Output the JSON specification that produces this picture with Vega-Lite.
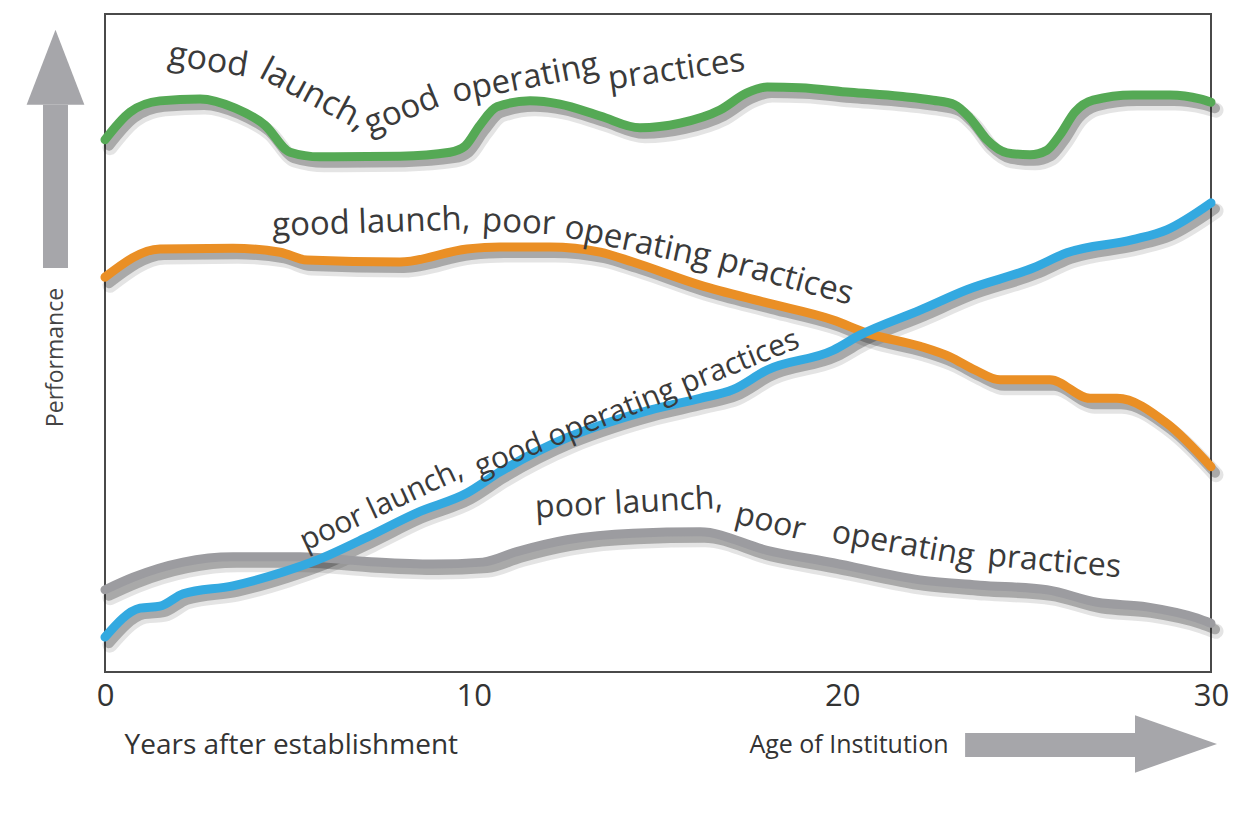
{
  "$schema": "https://vega.github.io/schema/vega-lite/v6.json",
  "width": 1106,
  "height": 658,
  "autosize": {"type": "none"},
  "padding": {"left": 105, "top": 14, "right": 25, "bottom": 147},
  "background": "white",
  "config": {"view": {"stroke": "#4a4a4a", "strokeWidth": 2}, "font": "Open Sans"},
  "datasets": {
    "lines": [
      {"series": "pp", "t": 0, "v": 12.5}, {"series": "pp", "t": 0.76, "v": 14.4}, {"series": "pp", "t": 2.12, "v": 16.7}, {"series": "pp", "t": 3.47, "v": 17.5}, {"series": "pp", "t": 5.29, "v": 17.5}, {"series": "pp", "t": 7.11, "v": 16.8}, {"series": "pp", "t": 8.9, "v": 16.4}, {"series": "pp", "t": 10.25, "v": 16.7}, {"series": "pp", "t": 11.17, "v": 18.3}, {"series": "pp", "t": 12.53, "v": 20.1}, {"series": "pp", "t": 14.32, "v": 21.1}, {"series": "pp", "t": 16.14, "v": 21.3}, {"series": "pp", "t": 17.96, "v": 18.5}, {"series": "pp", "t": 19.75, "v": 16.6}, {"series": "pp", "t": 22.11, "v": 14.0}, {"series": "pp", "t": 23.73, "v": 13.2}, {"series": "pp", "t": 25.55, "v": 12.5}, {"series": "pp", "t": 26.91, "v": 10.6}, {"series": "pp", "t": 28.26, "v": 9.9}, {"series": "pp", "t": 29.62, "v": 8.2}, {"series": "pp", "t": 30, "v": 7.4},
      {"series": "gp", "t": 0, "v": 60.0}, {"series": "gp", "t": 1.49, "v": 64.3}, {"series": "gp", "t": 3.47, "v": 64.4}, {"series": "gp", "t": 4.75, "v": 63.8}, {"series": "gp", "t": 5.48, "v": 62.6}, {"series": "gp", "t": 8.0, "v": 62.3}, {"series": "gp", "t": 9.82, "v": 64.3}, {"series": "gp", "t": 10.71, "v": 64.6}, {"series": "gp", "t": 12.07, "v": 64.6}, {"series": "gp", "t": 13.43, "v": 63.8}, {"series": "gp", "t": 14.32, "v": 62.3}, {"series": "gp", "t": 16.14, "v": 58.8}, {"series": "gp", "t": 17.96, "v": 56.1}, {"series": "gp", "t": 19.75, "v": 53.5}, {"series": "gp", "t": 20.67, "v": 51.5}, {"series": "gp", "t": 22.11, "v": 49.5}, {"series": "gp", "t": 22.92, "v": 47.9}, {"series": "gp", "t": 23.6, "v": 45.9}, {"series": "gp", "t": 24.28, "v": 44.4}, {"series": "gp", "t": 25.63, "v": 44.4}, {"series": "gp", "t": 26.72, "v": 41.6}, {"series": "gp", "t": 27.45, "v": 41.6}, {"series": "gp", "t": 28.8, "v": 37.8}, {"series": "gp", "t": 30, "v": 31.2},
      {"series": "gg", "t": 0, "v": 80.9}, {"series": "gg", "t": 0.68, "v": 85.1}, {"series": "gg", "t": 1.49, "v": 86.8}, {"series": "gg", "t": 2.58, "v": 87.1}, {"series": "gg", "t": 3.53, "v": 85.7}, {"series": "gg", "t": 4.34, "v": 83.1}, {"series": "gg", "t": 5.02, "v": 79.0}, {"series": "gg", "t": 5.83, "v": 78.3}, {"series": "gg", "t": 8.0, "v": 78.4}, {"series": "gg", "t": 9.36, "v": 79.0}, {"series": "gg", "t": 9.76, "v": 79.9}, {"series": "gg", "t": 10.17, "v": 83.1}, {"series": "gg", "t": 10.63, "v": 85.9}, {"series": "gg", "t": 11.53, "v": 86.8}, {"series": "gg", "t": 12.34, "v": 86.3}, {"series": "gg", "t": 13.43, "v": 84.5}, {"series": "gg", "t": 14.51, "v": 82.7}, {"series": "gg", "t": 15.6, "v": 83.4}, {"series": "gg", "t": 16.68, "v": 85.4}, {"series": "gg", "t": 17.41, "v": 88.0}, {"series": "gg", "t": 17.96, "v": 88.9}, {"series": "gg", "t": 18.85, "v": 88.8}, {"series": "gg", "t": 20.21, "v": 88.1}, {"series": "gg", "t": 21.56, "v": 87.5}, {"series": "gg", "t": 22.46, "v": 86.9}, {"series": "gg", "t": 23.05, "v": 86.2}, {"series": "gg", "t": 23.46, "v": 84.2}, {"series": "gg", "t": 23.92, "v": 80.9}, {"series": "gg", "t": 24.47, "v": 78.9}, {"series": "gg", "t": 25.09, "v": 78.6}, {"series": "gg", "t": 25.55, "v": 79.3}, {"series": "gg", "t": 25.9, "v": 81.6}, {"series": "gg", "t": 26.31, "v": 85.1}, {"series": "gg", "t": 26.8, "v": 86.9}, {"series": "gg", "t": 27.88, "v": 87.7}, {"series": "gg", "t": 28.89, "v": 87.7}, {"series": "gg", "t": 29.7, "v": 87.1}, {"series": "gg", "t": 30, "v": 86.6},
      {"series": "pg", "t": 0, "v": 5.3}, {"series": "pg", "t": 0.95, "v": 9.7}, {"series": "pg", "t": 1.49, "v": 10.0}, {"series": "pg", "t": 2.12, "v": 11.9}, {"series": "pg", "t": 3.47, "v": 13.1}, {"series": "pg", "t": 4.83, "v": 15.2}, {"series": "pg", "t": 5.75, "v": 17.0}, {"series": "pg", "t": 7.11, "v": 20.5}, {"series": "pg", "t": 8.46, "v": 24.2}, {"series": "pg", "t": 9.82, "v": 27.2}, {"series": "pg", "t": 10.71, "v": 30.4}, {"series": "pg", "t": 12.53, "v": 35.6}, {"series": "pg", "t": 13.7, "v": 38.0}, {"series": "pg", "t": 14.78, "v": 39.8}, {"series": "pg", "t": 16.14, "v": 41.6}, {"series": "pg", "t": 17.03, "v": 42.9}, {"series": "pg", "t": 17.96, "v": 45.9}, {"series": "pg", "t": 19.75, "v": 48.9}, {"series": "pg", "t": 20.48, "v": 51.2}, {"series": "pg", "t": 22.11, "v": 55.0}, {"series": "pg", "t": 23.38, "v": 58.1}, {"series": "pg", "t": 25.17, "v": 61.4}, {"series": "pg", "t": 26.09, "v": 63.7}, {"series": "pg", "t": 27.88, "v": 65.7}, {"series": "pg", "t": 28.8, "v": 67.2}, {"series": "pg", "t": 30, "v": 71.3}
    ]
  },
  "layer": [
    {
      "data": {"name": "lines"},
      "mark": {"type": "line", "interpolate": "monotone", "stroke": "#222222", "strokeWidth": 15, "opacity": 0.12, "xOffset": 5, "yOffset": 8, "strokeCap": "round"},
      "encoding": {
        "x": {"field": "t", "type": "quantitative", "scale": {"domain": [0, 30], "nice": false, "zero": false},
          "axis": {"values": [0, 10, 20, 30], "ticks": false, "domain": false, "grid": false, "labelFontSize": 31, "labelColor": "#333333", "labelPadding": 9, "labelFont": "Open Sans", "labelFlush": false,
            "title": "Years after establishment", "titleFont": "Open Sans", "titleFontSize": 28, "titleFontWeight": "normal", "titleColor": "#333333", "titleAlign": "left", "titleAnchor": "start", "titleX": 19, "titleY": 73, "titleBaseline": "middle"}},
        "y": {"field": "v", "type": "quantitative", "scale": {"domain": [0, 100], "nice": false, "zero": false},
          "axis": {"ticks": false, "labels": false, "domain": false, "grid": false, "title": "Performance", "titleFont": "Open Sans", "titleFontSize": 23, "titleFontWeight": "normal", "titleColor": "#444444", "titleX": -50, "titleY": 343, "titleAngle": -90, "titleAlign": "center", "titleBaseline": "middle"}},
        "detail": {"field": "series"}
      }
    },
    {
      "data": {"name": "lines"},
      "mark": {"type": "line", "interpolate": "monotone", "stroke": "#222222", "strokeWidth": 10, "opacity": 0.3, "xOffset": 4, "yOffset": 6, "strokeCap": "round"},
      "encoding": {
        "x": {"field": "t", "type": "quantitative"},
        "y": {"field": "v", "type": "quantitative"},
        "detail": {"field": "series"}
      }
    },
    {
      "data": {"name": "lines"},
      "mark": {"type": "line", "interpolate": "monotone", "strokeWidth": 9, "strokeCap": "round"},
      "encoding": {
        "x": {"field": "t", "type": "quantitative"},
        "y": {"field": "v", "type": "quantitative"},
        "color": {"field": "series", "type": "nominal", "scale": {"domain": ["pp", "gp", "gg", "pg"], "range": ["#9c9ca0", "#ea8f25", "#55a955", "#33a9e0"]}, "legend": null}
      }
    },
    {
      "data": {"values": [{"word": "good", "t": 2.8, "v": 92.9}]},
      "mark": {"type": "text", "angle": 9, "fontSize": 34, "font": "Open Sans", "color": "#3a3a3a", "align": "center", "baseline": "middle"},
      "encoding": {"x": {"field": "t", "type": "quantitative"}, "y": {"field": "v", "type": "quantitative"}, "text": {"field": "word"}}
    },
    {
      "data": {"values": [{"word": "launch,", "t": 5.65, "v": 87.7}]},
      "mark": {"type": "text", "angle": 28, "fontSize": 34, "font": "Open Sans", "color": "#3a3a3a", "align": "center", "baseline": "middle"},
      "encoding": {"x": {"field": "t", "type": "quantitative"}, "y": {"field": "v", "type": "quantitative"}, "text": {"field": "word"}}
    },
    {
      "data": {"values": [{"word": "good", "t": 8.05, "v": 85.3}]},
      "mark": {"type": "text", "angle": -22, "fontSize": 33, "font": "Open Sans", "color": "#3a3a3a", "align": "center", "baseline": "middle"},
      "encoding": {"x": {"field": "t", "type": "quantitative"}, "y": {"field": "v", "type": "quantitative"}, "text": {"field": "word"}}
    },
    {
      "data": {"values": [{"word": "operating", "t": 11.4, "v": 90.2}]},
      "mark": {"type": "text", "angle": -11, "fontSize": 33, "font": "Open Sans", "color": "#3a3a3a", "align": "center", "baseline": "middle"},
      "encoding": {"x": {"field": "t", "type": "quantitative"}, "y": {"field": "v", "type": "quantitative"}, "text": {"field": "word"}}
    },
    {
      "data": {"values": [{"word": "practices", "t": 15.5, "v": 91.5}]},
      "mark": {"type": "text", "angle": -8, "fontSize": 33, "font": "Open Sans", "color": "#3a3a3a", "align": "center", "baseline": "middle"},
      "encoding": {"x": {"field": "t", "type": "quantitative"}, "y": {"field": "v", "type": "quantitative"}, "text": {"field": "word"}}
    },
    {
      "data": {"values": [{"word": "good launch,", "t": 7.22, "v": 68.3}]},
      "mark": {"type": "text", "angle": -2, "fontSize": 33, "font": "Open Sans", "color": "#3a3a3a", "align": "center", "baseline": "middle"},
      "encoding": {"x": {"field": "t", "type": "quantitative"}, "y": {"field": "v", "type": "quantitative"}, "text": {"field": "word"}}
    },
    {
      "data": {"values": [{"word": "poor", "t": 11.22, "v": 68.3}]},
      "mark": {"type": "text", "angle": 3, "fontSize": 33, "font": "Open Sans", "color": "#3a3a3a", "align": "center", "baseline": "middle"},
      "encoding": {"x": {"field": "t", "type": "quantitative"}, "y": {"field": "v", "type": "quantitative"}, "text": {"field": "word"}}
    },
    {
      "data": {"values": [{"word": "operating", "t": 14.45, "v": 65.3}]},
      "mark": {"type": "text", "angle": 12, "fontSize": 33, "font": "Open Sans", "color": "#3a3a3a", "align": "center", "baseline": "middle"},
      "encoding": {"x": {"field": "t", "type": "quantitative"}, "y": {"field": "v", "type": "quantitative"}, "text": {"field": "word"}}
    },
    {
      "data": {"values": [{"word": "practices", "t": 18.47, "v": 60.0}]},
      "mark": {"type": "text", "angle": 15, "fontSize": 33, "font": "Open Sans", "color": "#3a3a3a", "align": "center", "baseline": "middle"},
      "encoding": {"x": {"field": "t", "type": "quantitative"}, "y": {"field": "v", "type": "quantitative"}, "text": {"field": "word"}}
    },
    {
      "data": {"values": [{"word": "poor  launch,", "t": 7.5, "v": 25.3}]},
      "mark": {"type": "text", "angle": -25, "fontSize": 30, "font": "Open Sans", "color": "#3a3a3a", "align": "center", "baseline": "middle"},
      "encoding": {"x": {"field": "t", "type": "quantitative"}, "y": {"field": "v", "type": "quantitative"}, "text": {"field": "word"}}
    },
    {
      "data": {"values": [{"word": "good operating practices", "t": 14.43, "v": 40.8}]},
      "mark": {"type": "text", "angle": -22, "fontSize": 30, "font": "Open Sans", "color": "#3a3a3a", "align": "center", "baseline": "middle"},
      "encoding": {"x": {"field": "t", "type": "quantitative"}, "y": {"field": "v", "type": "quantitative"}, "text": {"field": "word"}}
    },
    {
      "data": {"values": [{"word": "poor launch,", "t": 14.21, "v": 25.7}]},
      "mark": {"type": "text", "angle": -3, "fontSize": 32, "font": "Open Sans", "color": "#3a3a3a", "align": "center", "baseline": "middle"},
      "encoding": {"x": {"field": "t", "type": "quantitative"}, "y": {"field": "v", "type": "quantitative"}, "text": {"field": "word"}}
    },
    {
      "data": {"values": [{"word": "poor", "t": 18.05, "v": 22.8}]},
      "mark": {"type": "text", "angle": 14, "fontSize": 32, "font": "Open Sans", "color": "#3a3a3a", "align": "center", "baseline": "middle"},
      "encoding": {"x": {"field": "t", "type": "quantitative"}, "y": {"field": "v", "type": "quantitative"}, "text": {"field": "word"}}
    },
    {
      "data": {"values": [{"word": "operating", "t": 21.65, "v": 19.4}]},
      "mark": {"type": "text", "angle": 10, "fontSize": 32, "font": "Open Sans", "color": "#3a3a3a", "align": "center", "baseline": "middle"},
      "encoding": {"x": {"field": "t", "type": "quantitative"}, "y": {"field": "v", "type": "quantitative"}, "text": {"field": "word"}}
    },
    {
      "data": {"values": [{"word": "practices", "t": 25.75, "v": 16.8}]},
      "mark": {"type": "text", "angle": 5, "fontSize": 32, "font": "Open Sans", "color": "#3a3a3a", "align": "center", "baseline": "middle"},
      "encoding": {"x": {"field": "t", "type": "quantitative"}, "y": {"field": "v", "type": "quantitative"}, "text": {"field": "word"}}
    },
    {
      "data": {"values": [{"t": -1.343, "v": 61.4, "v2": 86.2}]},
      "mark": {"type": "rule", "color": "#a6a6aa", "strokeWidth": 25, "strokeCap": "butt"},
      "encoding": {"x": {"field": "t", "type": "quantitative"}, "y": {"field": "v", "type": "quantitative"}, "y2": {"field": "v2"}}
    },
    {
      "data": {"values": [{"t": -1.343, "v": 91.9}]},
      "mark": {"type": "point", "shape": "M0,-1L0.77,1L-0.77,1Z", "size": 5625, "filled": true, "color": "#a6a6aa", "opacity": 1, "strokeWidth": 0},
      "encoding": {"x": {"field": "t", "type": "quantitative"}, "y": {"field": "v", "type": "quantitative"}}
    },
    {
      "data": {"values": [{"t": 23.33, "t2": 27.94, "v": -11.09}]},
      "mark": {"type": "rule", "color": "#a6a6aa", "strokeWidth": 24, "strokeCap": "butt"},
      "encoding": {"x": {"field": "t", "type": "quantitative"}, "x2": {"field": "t2"}, "y": {"field": "v", "type": "quantitative"}}
    },
    {
      "data": {"values": [{"t": 29.05, "v": -10.94}]},
      "mark": {"type": "point", "shape": "M1,0L-1,0.7L-1,-0.7Z", "size": 6724, "filled": true, "color": "#a6a6aa", "opacity": 1, "strokeWidth": 0},
      "encoding": {"x": {"field": "t", "type": "quantitative"}, "y": {"field": "v", "type": "quantitative"}}
    },
    {
      "data": {"values": [{"word": "Age of Institution", "t": 20.18, "v": -11.1}]},
      "mark": {"type": "text", "fontSize": 25, "font": "Open Sans", "color": "#333333", "align": "center", "baseline": "middle"},
      "encoding": {"x": {"field": "t", "type": "quantitative"}, "y": {"field": "v", "type": "quantitative"}, "text": {"field": "word"}}
    }
  ]
}
